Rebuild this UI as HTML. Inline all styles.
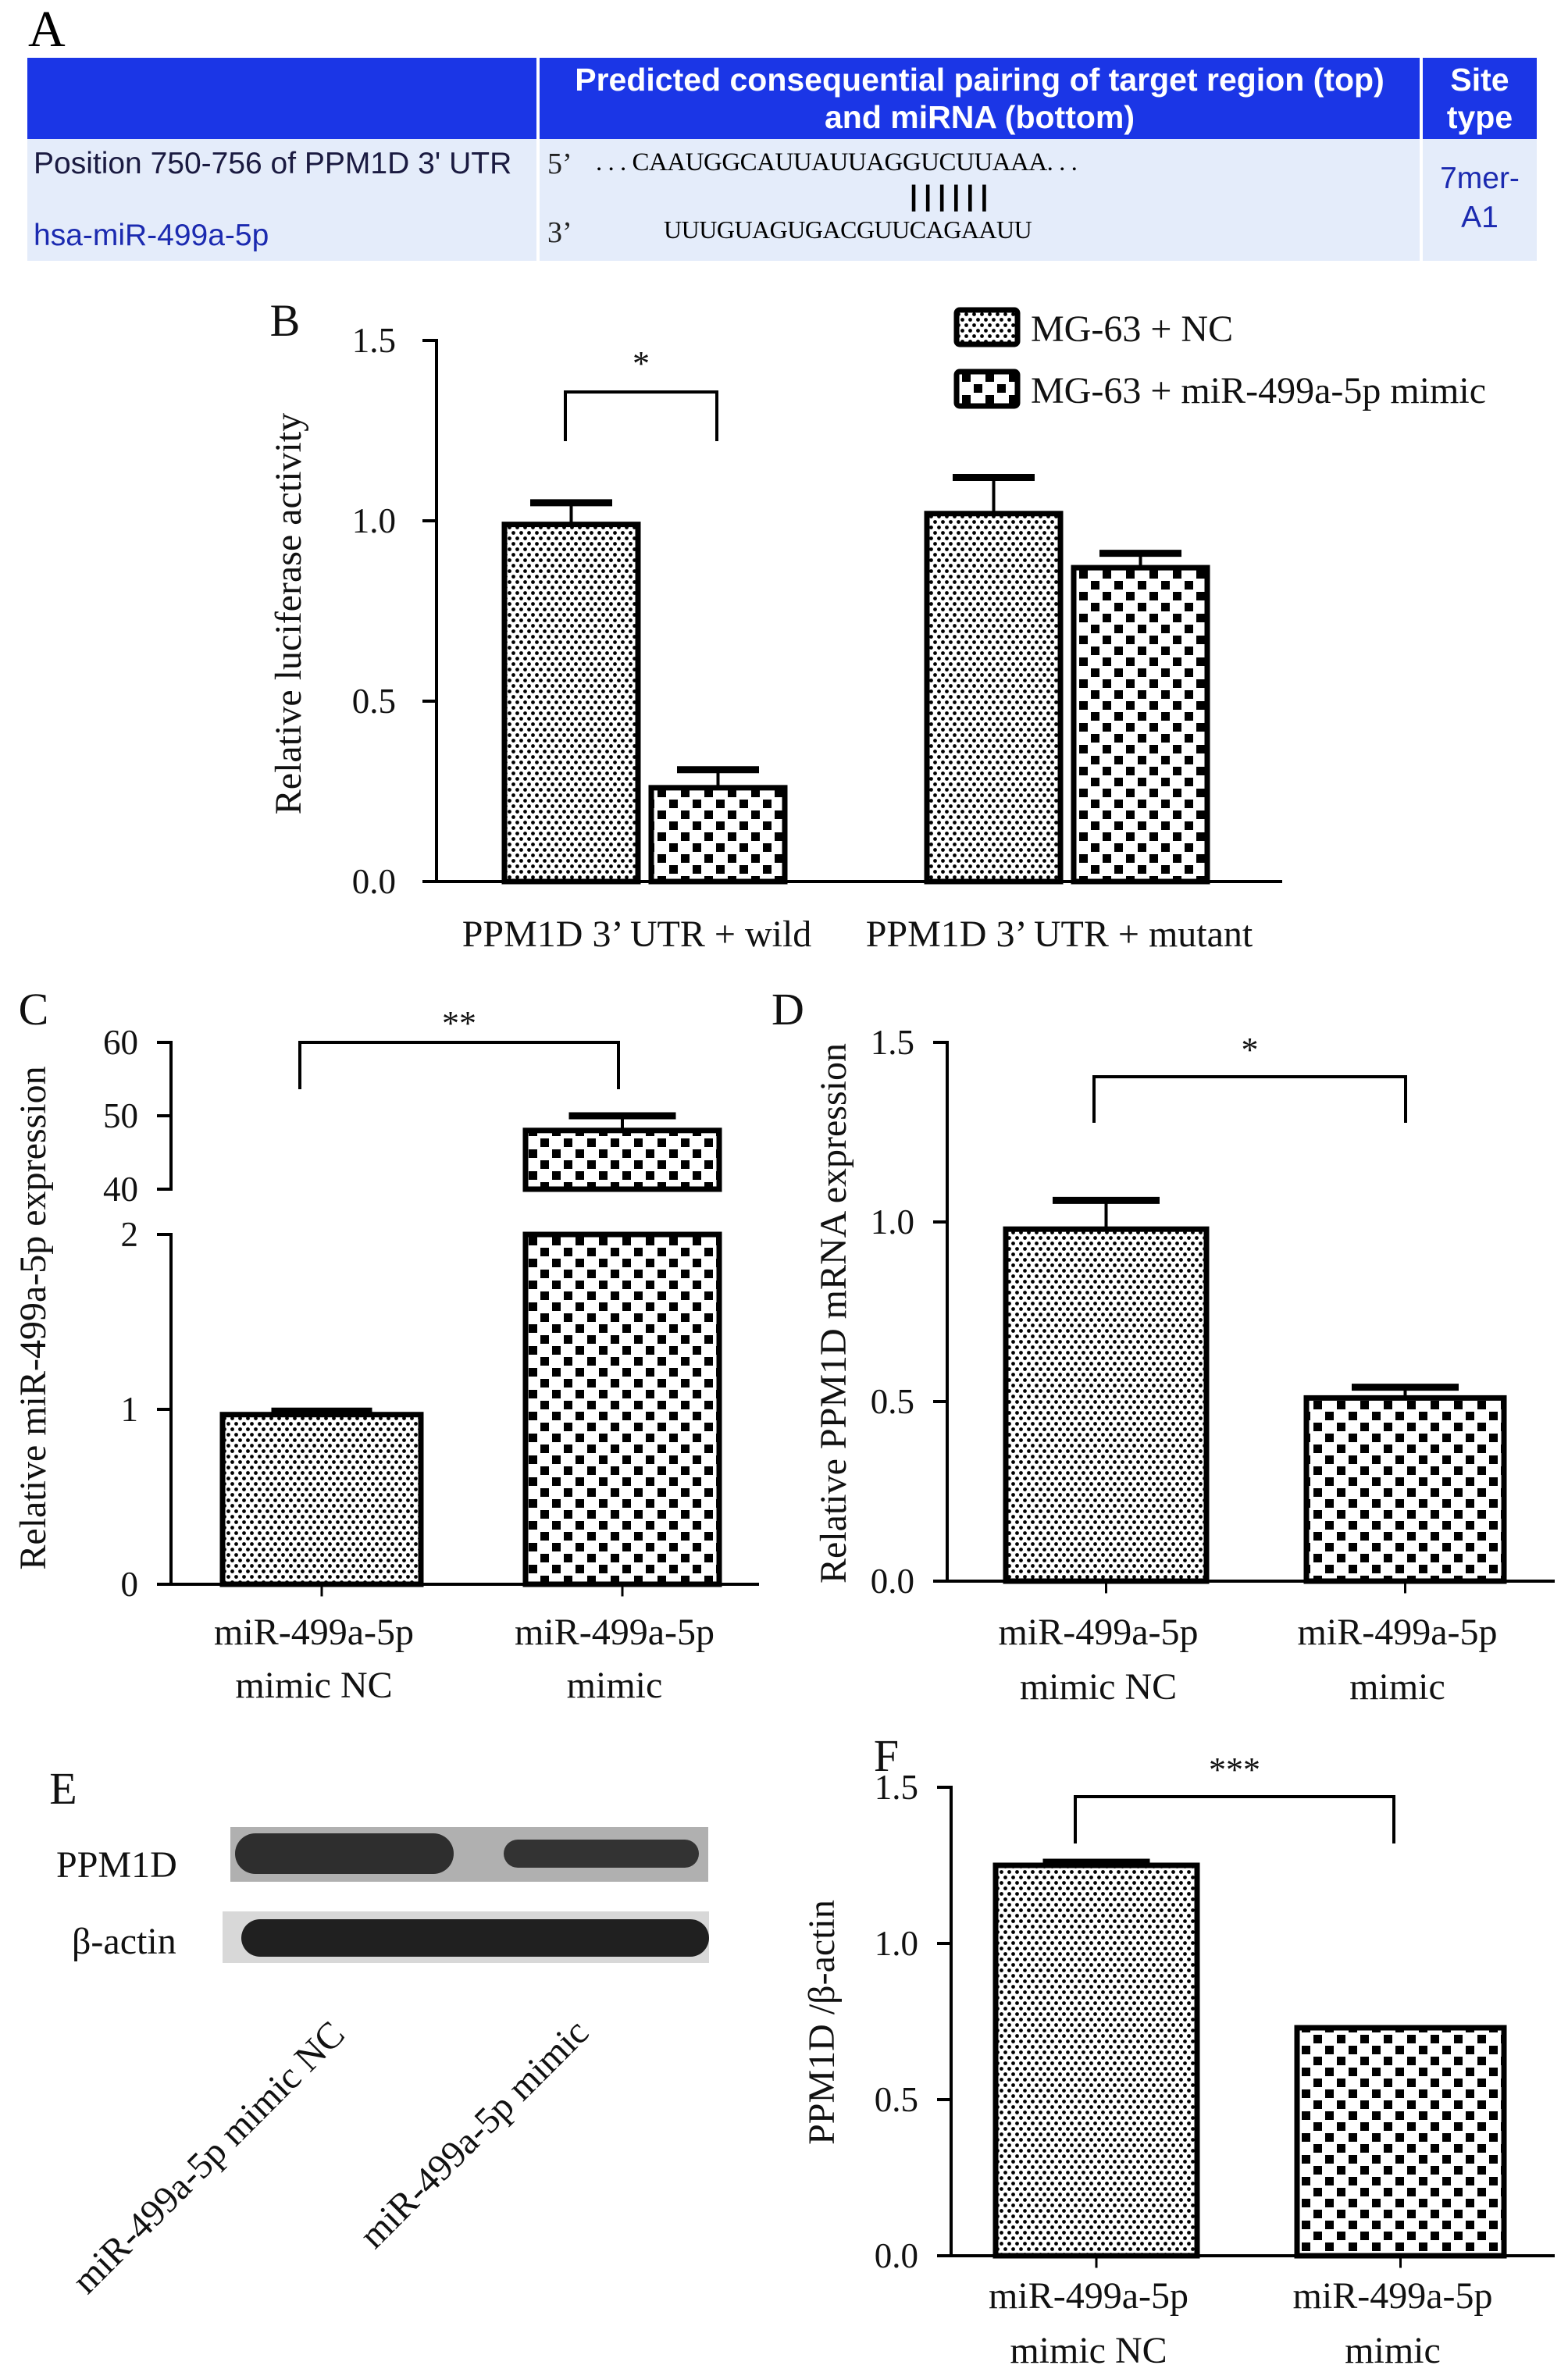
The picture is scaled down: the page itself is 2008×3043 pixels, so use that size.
<!DOCTYPE html>
<html><head><meta charset="utf-8"><style>
html,body{margin:0;padding:0;background:#fff;}
body{width:2008px;height:3043px;position:relative;overflow:hidden;font-family:"Liberation Serif",serif;}
.tbl{position:absolute;font-family:"Liberation Sans",sans-serif;}
.abs{position:absolute;}
</style></head><body>
<div class="abs" style="left:36px;top:0px;font-size:66px;">A</div>
<div class="tbl" style="left:35px;top:74px;width:1933px;height:260px;">
 <div style="position:absolute;left:0;top:0;width:1933px;height:104px;background:#1b36e6;"></div>
 <div style="position:absolute;left:0;top:104px;width:1933px;height:156px;background:#e4ecfa;"></div>
 <div style="position:absolute;left:652px;top:0;width:4px;height:260px;background:#fff;"></div>
 <div style="position:absolute;left:1783px;top:0;width:4px;height:260px;background:#fff;"></div>
 <div style="position:absolute;left:656px;top:4px;width:1127px;text-align:center;color:#fff;font-weight:bold;font-size:41px;line-height:48px;">Predicted consequential pairing of target region (top)<br>and miRNA (bottom)</div>
 <div style="position:absolute;left:1787px;top:4px;width:146px;text-align:center;color:#fff;font-weight:bold;font-size:41px;line-height:48px;">Site<br>type</div>
 <div style="position:absolute;left:8px;top:114px;font-size:39px;color:#1a1a40;">Position 750-756 of PPM1D 3' UTR</div>
 <div style="position:absolute;left:8px;top:206px;font-size:39px;color:#1b2ab0;">hsa-miR-499a-5p</div>
 <div style="position:absolute;left:666px;top:114px;font-size:38px;color:#222;font-family:'Liberation Serif',serif;">5’</div>
 <div style="position:absolute;left:666px;top:202px;font-size:38px;color:#222;font-family:'Liberation Serif',serif;">3’</div>
 <div style="position:absolute;left:728px;top:116px;font-size:33px;font-family:'Liberation Serif',serif;letter-spacing:-0.5px;">. . . CAAUGGCAUUAUUAGGUCUUAAA. . .</div>
 <div style="position:absolute;left:1130px;top:156px;font-size:36px;letter-spacing:8px;font-weight:bold;">||||||</div>
 <div style="position:absolute;left:815px;top:202px;font-size:32px;font-family:'Liberation Serif',serif;letter-spacing:-0.5px;">UUUGUAGUGACGUUCAGAAUU</div>
 <div style="position:absolute;left:1787px;top:130px;width:146px;text-align:center;font-size:39px;color:#1b2ab0;line-height:50px;">7mer-<br>A1</div>
</div>

<svg id="s" class="abs" style="left:0;top:0" width="2008" height="3043" xmlns="http://www.w3.org/2000/svg">
<defs>
 <pattern id="dots" width="10" height="14" patternUnits="userSpaceOnUse">
  <rect width="10" height="14" fill="#fff"/>
  <circle cx="2.5" cy="3.5" r="2.4" fill="#000"/><circle cx="7.5" cy="10.5" r="2.4" fill="#000"/>
 </pattern>
 <pattern id="check" width="30" height="28" patternUnits="userSpaceOnUse">
  <rect width="30" height="28" fill="#fff"/>
  <rect x="2" y="2" width="11" height="11" fill="#000"/><rect x="17" y="16" width="11" height="11" fill="#000"/>
 </pattern>
</defs>
<g id="g"></g>
</svg>

<div class="abs" style="left:295px;top:2340px;width:612px;height:70px;background:#b0b0b0;">
 <div style="position:absolute;left:6px;top:8px;width:280px;height:52px;border-radius:26px;background:#2e2e2e;"></div>
 <div style="position:absolute;left:350px;top:16px;width:250px;height:36px;border-radius:18px;background:#333;"></div>
</div>
<div class="abs" style="left:285px;top:2448px;width:623px;height:66px;background:#d8d8d8;">
 <div style="position:absolute;left:24px;top:10px;width:599px;height:48px;border-radius:24px;background:#202020;"></div>
</div>

<script>
// Panel B data
const bCategories = ["PPM1D 3\u2019 UTR + wild", "PPM1D 3\u2019 UTR + mutant"];
const bNC = [0.99, 1.02];
const bNCerr = [0.06, 0.10];
const bMimic = [0.26, 0.87];
const bMimicErr = [0.05, 0.04];
const bTicks = ["0.0", "0.5", "1.0", "1.5"];
// Panel C data
const cCategories = [["miR-499a-5p","mimic NC"],["miR-499a-5p","mimic"]];
const cValues = [0.97, 48];
const cErr = [0.02, 2];
const cLowTicks = ["0","1","2"];
const cHighTicks = ["40","50","60"];
// Panel D data
const dCategories = [["miR-499a-5p","mimic NC"],["miR-499a-5p","mimic"]];
const dValues = [0.98, 0.51];
const dErr = [0.08, 0.03];
const dTicks = ["0.0","0.5","1.0","1.5"];
// Panel F data
const fCategories = [["miR-499a-5p","mimic NC"],["miR-499a-5p","mimic"]];
const fValues = [1.25, 0.73];
const fErr = [0.01, 0.0];
const fTicks = ["0.0","0.5","1.0","1.5"];

const NS="http://www.w3.org/2000/svg";
const G=document.getElementById('g');
const FS=48, TS=45;
function el(tag,attrs,txt){const e=document.createElementNS(NS,tag);for(const k in attrs)e.setAttribute(k,attrs[k]);if(txt!==undefined)e.textContent=txt;G.appendChild(e);return e;}
function line(x1,y1,x2,y2,w){return el('line',{x1,y1,x2,y2,stroke:'#000','stroke-width':w||4,'stroke-linecap':'square'});}
function txt(x,y,s,size,anchor,rot){const a={x,y,'font-size':size,'text-anchor':anchor||'middle','font-family':'Liberation Serif, serif',fill:'#111'};if(rot)a.transform=rot;return el('text',a,s);}
function bar(x0,x1,ytop,ybot,fill,name){const r=el('rect',{x:x0,y:ytop,width:x1-x0,height:ybot-ytop,fill:'url(#'+fill+')',stroke:'#000','stroke-width':7});
 
 
 return r;}
function errbar(xc,ytop,yerr,half){if(yerr<ytop-2){line(xc,ytop,xc,yerr,4);line(xc-half,yerr,xc+half,yerr,9);}}
function bracket(x0,x1,ytop,ybot,stars,ys){line(x0,ybot,x0,ytop,4);line(x0,ytop,x1,ytop,4);line(x1,ytop,x1,ybot,4);txt((x0+x1)/2,ys,stars,44);}

// ---- Panel B ----
(function(){
 const ax=559, y0=1129, y1=436, vmax=1.5, xEnd=1640;
 const Y=v=>y0-(v/vmax)*(y0-y1);
 txt(365,430,'B',58);
 line(ax,y1,ax,y0);line(ax,y0,xEnd,y0);
 bTicks.forEach((t)=>{const v=parseFloat(t);line(ax-16,Y(v),ax,Y(v));txt(ax-52,Y(v)+15,t,TS,'end');});
 const groupX=[646,1187], bw=171, gap=17;
 bCategories.forEach((c,i)=>{
  const xa=groupX[i], xb=xa+bw+gap;
  bar(xa,xa+bw,Y(bNC[i]),y0,'dots','bar-nc-'+i);
  errbar(xa+bw/2,Y(bNC[i]),Y(bNC[i]+bNCerr[i]),48);
  bar(xb,xb+bw,Y(bMimic[i]),y0,'check','bar-mimic-'+i);
  errbar(xb+bw/2,Y(bMimic[i]),Y(bMimic[i]+bMimicErr[i]),48);
  const t=txt(xa+bw+gap/2-10,1212,c,FS);
  
  
 });
 bracket(724,918,502,563,'*',480);
 const yl=txt(385,786,'Relative luciferase activity',FS,'middle','rotate(-90 385 786)');
 
 
 // legend
 el('rect',{x:1225,y:397,width:78,height:44,fill:'url(#dots)',stroke:'#000','stroke-width':7,rx:4});
 txt(1320,437,'MG-63 + NC',FS,'start');
 el('rect',{x:1225,y:476,width:78,height:44,fill:'url(#check)',stroke:'#000','stroke-width':7,rx:4});
 txt(1320,516,'MG-63 + miR-499a-5p mimic',FS,'start');
})();

// ---- Panel C (broken axis) ----
(function(){
 const ax=219, xEnd=970;
 const lowY0=2029, lowY1=1581, lowMax=2;
 const hiY0=1523, hiY1=1335, hiMin=40, hiMax=60;
 const YL=v=>lowY0-(v/lowMax)*(lowY0-lowY1);
 const YH=v=>hiY0-((v-hiMin)/(hiMax-hiMin))*(hiY0-hiY1);
 txt(43,1312,'C',58);
 line(ax,lowY1,ax,lowY0);line(ax,hiY1,ax,hiY0);line(ax,lowY0,xEnd,lowY0);
 cLowTicks.forEach(t=>{const v=+t;line(ax-16,YL(v),ax,YL(v));txt(ax-42,YL(v)+15,t,TS,'end');});
 cHighTicks.forEach(t=>{const v=+t;line(ax-16,YH(v),ax,YH(v));txt(ax-42,YH(v)+15,t,TS,'end');});
 const xs=[[285,539],[673,921]];
 cValues.forEach((v,i)=>{
  const [a,b]=xs[i], xc=(a+b)/2; line(xc,lowY0,xc,lowY0+14,3);
  if(v<=lowMax){bar(a,b,YL(v),lowY0,i?'check':'dots','bar-c-'+i);errbar(xc,YL(v),YL(v+cErr[i]),60);}
  else{bar(a,b,lowY1,lowY0,'check','bar-c-'+i+'-low');bar(a,b,YH(v),hiY0,'check','bar-c-'+i+'-high');errbar(xc,YH(v),YH(v+cErr[i]),64);}
  cCategories[i].forEach((s,k)=>txt(xc-10,2106+k*68,s,FS));
 });
 bracket(384,792,1335,1393,'**',1325);
 txt(58,1688,'Relative miR-499a-5p expression',FS,'middle','rotate(-90 58 1688)');
})();

function simplePanel(letter,lx,ly,ax,y0,y1,xEnd,ticks,vals,errs,cats,xs,br,ylabel,ylx,yly,labY){
 const vmax=1.5; const Y=v=>y0-(v/vmax)*(y0-y1);
 txt(lx,ly,letter,58);
 line(ax,y1,ax,y0);line(ax,y0,xEnd,y0);
 ticks.forEach(t=>{const v=+t;line(ax-16,Y(v),ax,Y(v));txt(ax-42,Y(v)+15,t,TS,'end');});
 vals.forEach((v,i)=>{const [a,b]=xs[i],xc=(a+b)/2;line(xc,y0,xc,y0+14,3);
  bar(a,b,Y(v),y0,i?'check':'dots','bar-'+letter+'-'+i);errbar(xc,Y(v),Y(v+errs[i]),64);
  cats[i].forEach((s,k)=>txt(xc-10,labY+k*70,s,FS));});
 bracket(br[0],br[1],br[2],br[3],br[4],br[2]-20);
 txt(ylx,yly,ylabel,FS,'middle','rotate(-90 '+ylx+' '+yly+')');
}
simplePanel('D',1009,1312,1213,2025,1335,1989,dTicks,dValues,dErr,dCategories,[[1288,1545],[1673,1926]],[1401,1800,1379,1436,'*'],'Relative PPM1D mRNA expression',1083,1682,2106);
simplePanel('F',1135,2268,1218,2889,2289,1989,fTicks,fValues,fErr,fCategories,[[1275,1533],[1661,1926]],[1377,1785,2301,2359,'***'],'PPM1D /\u03b2-actin',1068,2590,2956);

// ---- Panel E labels ----
txt(81,2310,'E',58);
txt(72,2404,'PPM1D',FS,'start');
txt(92,2502,'\u03b2-actin',FS,'start');
txt(112,2940,'miR-499a-5p mimic NC',48,'start','rotate(-45 112 2940)');
txt(480,2882,'miR-499a-5p mimic',48,'start','rotate(-45 480 2882)');
</script>
</body></html>
